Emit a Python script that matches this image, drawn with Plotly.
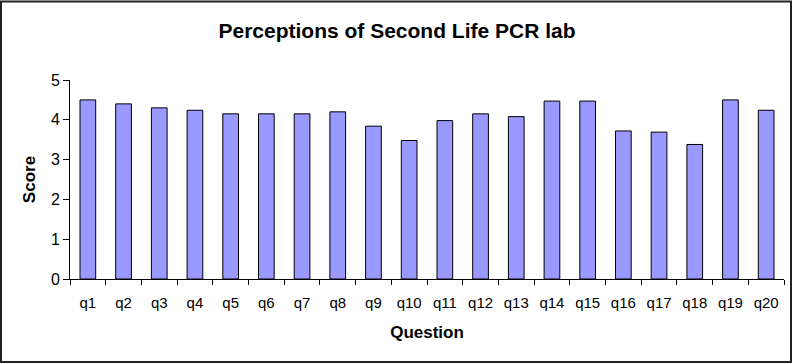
import plotly.graph_objects as go

questions = ["q1", "q2", "q3", "q4", "q5", "q6", "q7", "q8", "q9", "q10",
             "q11", "q12", "q13", "q14", "q15", "q16", "q17", "q18", "q19", "q20"]
scores = [4.50, 4.40, 4.30, 4.24, 4.15, 4.15, 4.15, 4.20, 3.84, 3.48,
          3.98, 4.15, 4.08, 4.47, 4.47, 3.72, 3.69, 3.38, 4.50, 4.24]
y_ticks = [0, 1, 2, 3, 4, 5]

W, H = 799, 364
L, R, T, B = 70, 15, 80, 85
pw, ph = W - L - R, H - T - B

fig = go.Figure(go.Bar(
    x=questions, y=scores,
    marker=dict(color="#9999FF", line=dict(color="black", width=1)),
))

font = "Liberation Sans, Arial, sans-serif"
fig.update_layout(
    width=W, height=H,
    margin=dict(l=L, r=R, t=T, b=B),
    paper_bgcolor="white", plot_bgcolor="white",
    bargap=0.56,
    showlegend=False,
    font=dict(family=font, color="black", size=16),
    title=dict(text="<b>Perceptions of Second Life PCR lab</b>",
               x=397 / W, xanchor="center", xref="container",
               y=1 - 31 / H, yanchor="middle", yref="container",
               font=dict(size=21, family=font, color="black")),
)
fig.update_xaxes(
    type="category", showline=True, linecolor="black", linewidth=1,
    ticks="outside", tickson="boundaries", ticklen=5, tickcolor="black",
    showgrid=False, tickfont=dict(size=15), tickangle=0, ticklabelstandoff=10,
    title=dict(text="<b>Question</b>", font=dict(size=17), standoff=16),
)
fig.update_yaxes(
    range=[0, 5], tickvals=y_ticks, showline=True, linecolor="black", linewidth=1,
    ticks="outside", ticklen=6, tickcolor="black", showgrid=False, zeroline=False,
    tickfont=dict(size=16),
    title=dict(text="<b>Score</b>", font=dict(size=17), standoff=10),
)
fig.add_shape(type="rect", xref="paper", yref="paper",
              x0=(1 - L) / pw, x1=(791 - L) / pw,
              y0=(T + ph - 362) / ph, y1=(T + ph - 1.5) / ph,
              line=dict(color="#222222", width=2), layer="above")

fig.write_html("out.html")
